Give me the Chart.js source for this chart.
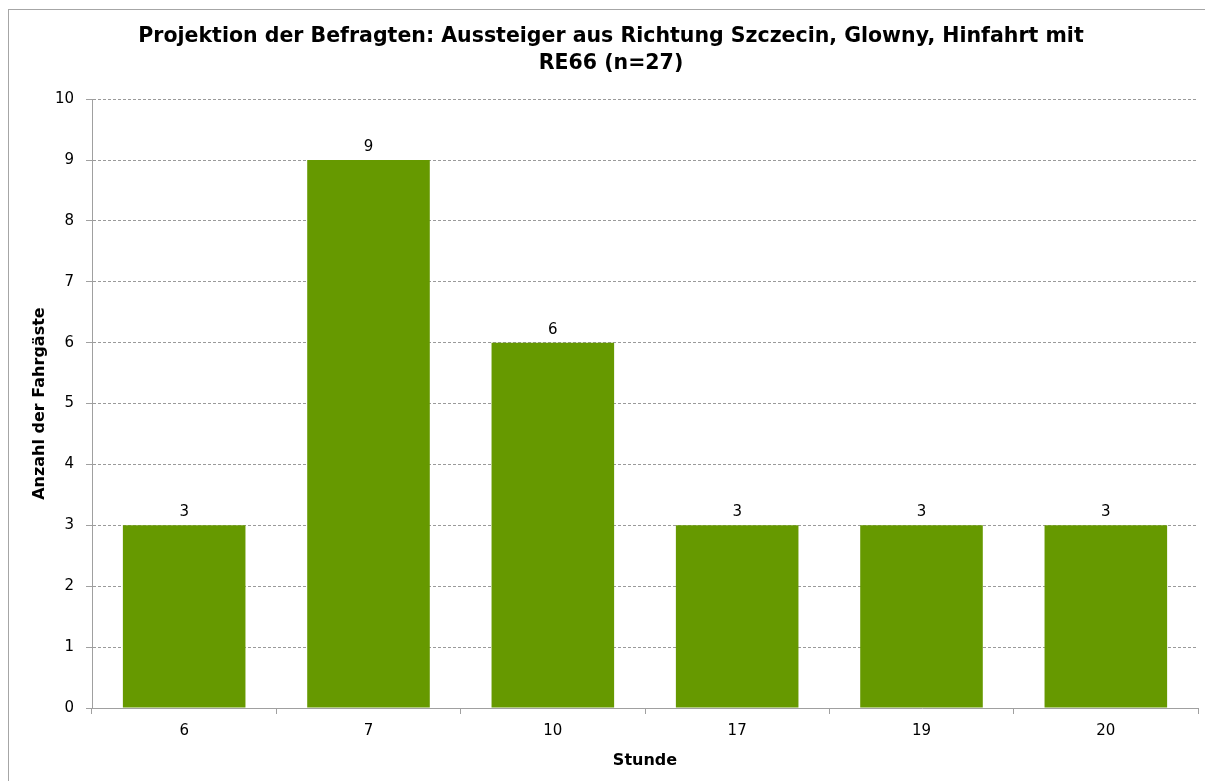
<!DOCTYPE html>
<html>
<head>
<meta charset="utf-8">
<script src="https://cdn.jsdelivr.net/npm/chart.js@4/dist/chart.umd.min.js"></script>
<style>
html,body{margin:0;padding:0;background:#fff;overflow:hidden;}
#frame{position:absolute;left:8px;top:9px;width:1300px;height:900px;border-top:1px solid #a6a6a6;border-left:1px solid #a6a6a6;}
#c{position:absolute;left:0;top:0;}
</style>
</head>
<body>
<div id="frame"></div>
<canvas id="c" width="1205" height="781"></canvas>
<script>
const categories = ['6', '7', '10', '17', '19', '20'];
const values = [3, 9, 6, 3, 3, 3];
const yTicks = [0, 1, 2, 3, 4, 5, 6, 7, 8, 9, 10];
const titleLines = ['Projektion der Befragten: Aussteiger aus Richtung Szczecin, Glowny, Hinfahrt mit', 'RE66 (n=27)'];
const xTitle = 'Stunde';
const yTitle = 'Anzahl der Fahrgäste';

const FONT = "'DejaVu Sans', Verdana, sans-serif";

const labelPlugin = {
  id: 'barLabels',
  afterDatasetsDraw(chart) {
    const ctx = chart.ctx;
    const meta = chart.getDatasetMeta(0);
    ctx.save();
    ctx.font = '15px ' + FONT;
    ctx.fillStyle = '#000';
    ctx.textAlign = 'center';
    ctx.textBaseline = 'alphabetic';
    meta.data.forEach((bar, i) => {
      ctx.fillText(String(values[i]), bar.x, bar.y - 9);
    });
    ctx.restore();
  }
};

new Chart(document.getElementById('c'), {
  type: 'bar',
  data: {
    labels: categories,
    datasets: [{
      data: values,
      backgroundColor: '#669900',
      borderWidth: 0,
      categoryPercentage: 1,
      barPercentage: 0.665
    }]
  },
  options: {
    responsive: false,
    animation: false,
    layout: { padding: { left: 24, right: 7, top: 0, bottom: 0 } },
    plugins: {
      legend: { display: false },
      tooltip: { enabled: false },
      title: {
        display: true,
        text: titleLines,
        color: '#000',
        font: { family: FONT, size: 20.5, weight: 'bold', lineHeight: 1.32 },
        padding: { top: 23, bottom: 22 }
      }
    },
    scales: {
      x: {
        grid: { display: true, drawOnChartArea: false, drawTicks: true, tickLength: 6, color: '#a0a0a0', offset: true },
        border: { display: true, color: '#a0a0a0', width: 1 },
        ticks: { color: '#000', font: { family: FONT, size: 15 }, padding: 8 },
        title: { display: true, text: xTitle, color: '#000', font: { family: FONT, size: 16, weight: 'bold' }, padding: { top: 2, bottom: 11 } },
        afterFit(scale) { scale.height = 73; }
      },
      y: {
        min: 0,
        max: 10,
        afterBuildTicks(scale) { scale.ticks = yTicks.map(v => ({ value: v })); },
        grid: {
          color: (c) => c.tick && c.tick.value === 0 ? '#a0a0a0' : '#9a9a9a',
          tickLength: 6,
          tickBorderDash: [],
          tickColor: '#a0a0a0'
        },
        border: { display: true, color: '#a0a0a0', width: 1, dash: [3, 2] },
        ticks: { color: '#000', font: { family: FONT, size: 15 }, padding: 12 },
        title: { display: true, text: yTitle, color: '#000', font: { family: FONT, size: 16, weight: 'bold' }, padding: { top: 6, bottom: 0 } },
        afterFit(scale) { scale.width = 68; }
      }
    }
  },
  plugins: [labelPlugin]
});
</script>
</body>
</html>
